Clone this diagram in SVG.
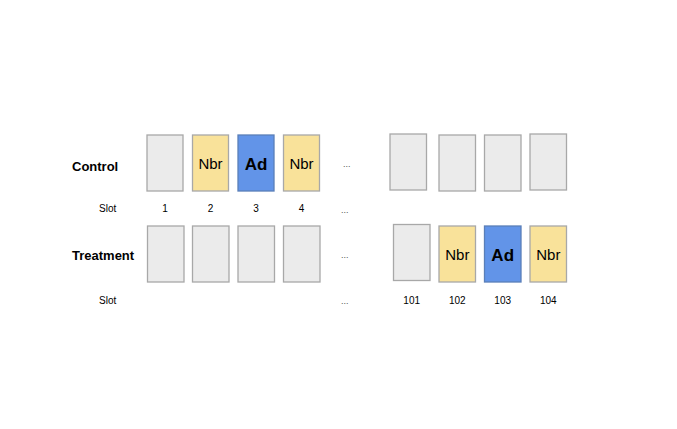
<svg xmlns="http://www.w3.org/2000/svg" width="677" height="429" viewBox="0 0 677 429">
<style>
.g{fill:#ebebeb;stroke:#a8a8a8;stroke-width:1.3}
.y{fill:#f9e29a;stroke:#a8a8a8;stroke-width:1.3}
.b{fill:#6294e8;stroke:#5a7fb8;stroke-width:1.3}
text{font-family:"Liberation Sans",Arial,sans-serif;fill:#000}
.h{font-size:13px;font-weight:bold}
.n{font-size:15px;text-anchor:middle}
.a{font-size:17px;font-weight:bold;text-anchor:middle}
.s{font-size:10px}
.c{font-size:10px;text-anchor:middle}
.d{font-size:9px;fill:#555}
</style>
<rect width="677" height="429" fill="#fff"/>
<g id="labels">
<text class="h" x="72" y="171">Control</text>
<text class="h" x="72" y="260">Treatment</text>
<text class="s" x="99" y="212">Slot</text>
<text class="s" x="99" y="304">Slot</text>
<text class="d" x="343" y="167">...</text>
<text class="d" x="341" y="213">...</text>
<text class="d" x="341" y="258">...</text>
<text class="d" x="341" y="304">...</text>
</g>
<g id="control">
<g id="c1"><rect class="g" x="147" y="135" width="36" height="56"/><text class="c" x="165" y="212">1</text></g>
<g id="c2"><rect class="y" x="192.5" y="135" width="36" height="56"/><text class="n" x="210.5" y="169">Nbr</text><text class="c" x="210.5" y="212">2</text></g>
<g id="c3"><rect class="b" x="238" y="135" width="36" height="56"/><text class="a" x="256" y="170">Ad</text><text class="c" x="256" y="212">3</text></g>
<g id="c4"><rect class="y" x="283.5" y="135" width="36" height="56"/><text class="n" x="301.5" y="169">Nbr</text><text class="c" x="301.5" y="212">4</text></g>
<g id="c5"><rect class="g" x="390" y="134" width="36.5" height="56"/></g>
<g id="c6"><rect class="g" x="439" y="135" width="36.5" height="56"/></g>
<g id="c7"><rect class="g" x="484.5" y="135" width="36.5" height="56"/></g>
<g id="c8"><rect class="g" x="530" y="134" width="36.5" height="56"/></g>
</g>
<g id="treatment">
<g id="t1"><rect class="g" x="147.5" y="226" width="36.5" height="56"/></g>
<g id="t2"><rect class="g" x="192.5" y="226" width="36.5" height="56"/></g>
<g id="t3"><rect class="g" x="238" y="226" width="36.5" height="56"/></g>
<g id="t4"><rect class="g" x="283.5" y="226" width="36.5" height="56"/></g>
<g id="t101"><rect class="g" x="393.5" y="224.5" width="36.5" height="56"/><text class="c" x="411.7" y="304">101</text></g>
<g id="t102"><rect class="y" x="439" y="226" width="36.5" height="56"/><text class="n" x="457.3" y="260">Nbr</text><text class="c" x="457.3" y="304">102</text></g>
<g id="t103"><rect class="b" x="484.5" y="226" width="36.5" height="56"/><text class="a" x="502.7" y="261">Ad</text><text class="c" x="502.7" y="304">103</text></g>
<g id="t104"><rect class="y" x="530" y="226" width="36.5" height="56"/><text class="n" x="548.3" y="260">Nbr</text><text class="c" x="548.3" y="304">104</text></g>
</g>
<g id="connectors"></g>
</svg>
